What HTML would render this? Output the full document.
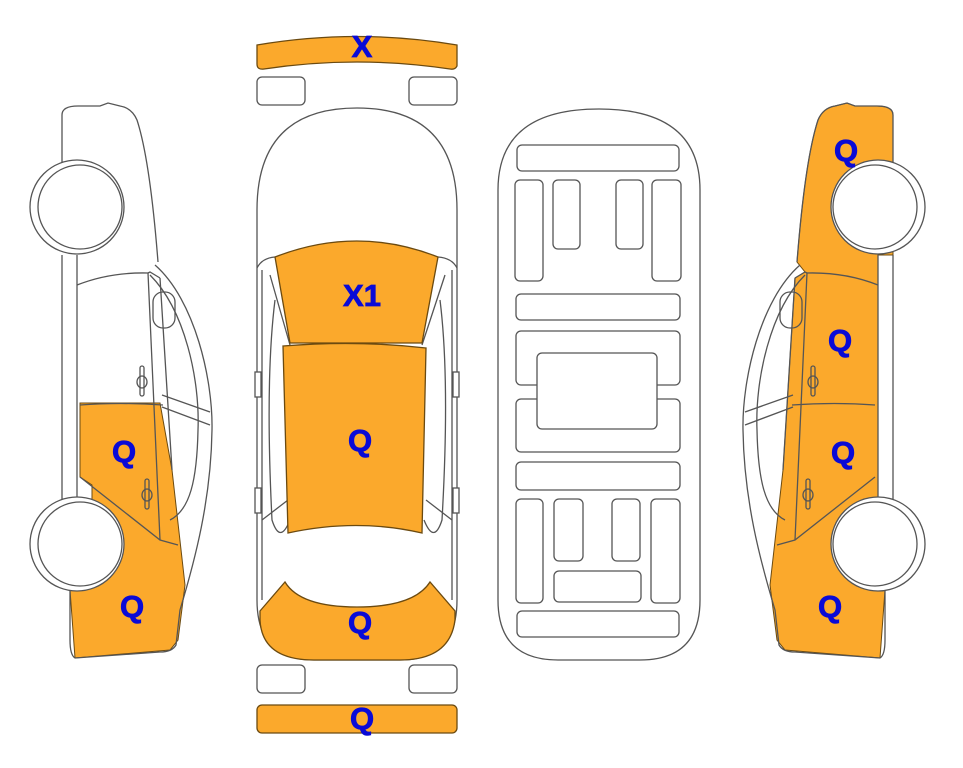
<!DOCTYPE html>
<html><head><meta charset="utf-8"><style>
html,body{margin:0;padding:0;background:#fff;}
svg{display:block;}
text{font-family:"Liberation Sans",Arial,sans-serif;font-weight:bold;fill:#0a0ad6;font-size:31px;text-anchor:middle;stroke:#0a0ad6;stroke-width:0.8;}
</style></head><body>
<svg width="963" height="768" viewBox="0 0 963 768" xmlns="http://www.w3.org/2000/svg">
<defs>
<g id="sideLines" fill="none" stroke="#555" stroke-width="1.3">
  <path d="M62,165 L62,115 Q62,106 78,106 L100,106 L108,103 L120,106 Q132,108 137,120 Q150,160 158,262"/>
  <path d="M155,265 C195,300 213,380 212,430 C211,500 195,560 180,610 L176,645 Q172,652 160,652 L75,658 Q70,655 70,640 L70,588"/>
  <path d="M150,275 C185,310 200,380 198,430 C197,480 190,510 170,520"/>
  <path d="M62,255 L62,505 M77,255 L77,505"/>
  <path d="M77,285 Q110,272 148,273 L160,540"/>
  <path d="M148,273 L150,272 L160,278"/>
  <path d="M160,278 L172,470"/>
  <path d="M80,405 Q120,402 163,405"/>
  <path d="M80,477 L160,540 L178,545"/>
  <path d="M162,395 L210,412 M162,407 L210,425"/>
  <rect x="153" y="292" width="22" height="36" rx="10"/>
  <ellipse cx="142" cy="382" rx="5" ry="6"/><rect x="140" y="366" width="4" height="30" rx="2"/>
  <ellipse cx="147" cy="495" rx="5" ry="6"/><rect x="145" y="479" width="4" height="30" rx="2"/>
</g>
<g id="wheels" stroke="#555" stroke-width="1.3" fill="#fff">
  <circle cx="77" cy="207" r="47"/><circle cx="80" cy="207" r="42"/>
  <circle cx="77" cy="544" r="47"/><circle cx="80" cy="544" r="42"/>
</g>
</defs>

<path d="M80,403 L160,403 L172,470 L185,585 L178,640 L170,650 L75,658 L70,590 L70,510 L92,505 L92,485 L80,477 Z" fill="#fba92c" stroke="#6b4a10" stroke-width="1"/>
<use href="#sideLines"/>
<use href="#wheels"/>

<g transform="translate(955,0) scale(-1,1)">
<path d="M62,165 L62,115 Q62,106 78,106 L100,106 L108,103 L120,106 Q132,108 137,120 Q150,160 158,262 L150,272 L160,278 L172,470 L185,585 L178,640 L170,650 L75,658 L70,590 L70,505 L77,505 L77,255 L62,255 Z" fill="#fba92c" stroke="#6b4a10" stroke-width="1"/>
<use href="#sideLines"/>
<use href="#wheels"/>
</g>

<g stroke="#555" stroke-width="1.3">
<path d="M257,45 Q357,28 457,45 L457,66 Q455,70 450,69 Q357,55 264,69 Q257,70 257,64 Z" fill="#fba92c" stroke="#6b4a10"/>
<rect x="257" y="77" width="48" height="28" rx="5" fill="#fff"/>
<rect x="409" y="77" width="48" height="28" rx="5" fill="#fff"/>
<rect x="257" y="665" width="48" height="28" rx="5" fill="#fff"/>
<rect x="409" y="665" width="48" height="28" rx="5" fill="#fff"/>
<rect x="257" y="705" width="200" height="28" rx="5" fill="#fba92c" stroke="#6b4a10"/>

<path d="M257,210 Q257,108 357,108 Q457,108 457,210 L457,600 Q457,660 400,660 L314,660 Q257,660 257,600 Z" fill="#fff"/>
<path d="M260,611 L285,582 Q300,607 357,607 Q414,607 430,582 L455,611 L455,620 Q450,660 400,660 L314,660 Q262,660 260,620 Z" fill="#fba92c" stroke="#6b4a10"/>
<path d="M257,268 Q262,258 275,257 M457,268 Q452,258 438,257" fill="none"/>
<path d="M262,270 L262,600 M452,270 L452,600" fill="none"/>
<path d="M270,275 L290,345 M445,275 L422,345" fill="none"/>
<path d="M275,300 Q265,380 272,520 Q280,545 290,520 M440,300 Q450,380 442,520 Q434,545 424,520" fill="none"/>
<path d="M262,520 L288,500 M452,520 L426,500" fill="none"/>
<rect x="255" y="372" width="6" height="25" fill="#fff"/>
<rect x="453" y="372" width="6" height="25" fill="#fff"/>
<rect x="255" y="488" width="6" height="25" fill="#fff"/>
<rect x="453" y="488" width="6" height="25" fill="#fff"/>
<path d="M275,257 Q357,225 438,257 L422,343 L290,343 Z" fill="#fba92c" stroke="#6b4a10"/>
<path d="M283,346 Q357,340 426,348 L422,533 Q357,518 288,533 Z" fill="#fba92c" stroke="#6b4a10"/>
</g>

<g fill="#fff" stroke="#555" stroke-width="1.3">
<path d="M498,190 Q498,109 599,109 Q700,109 700,190 L700,600 Q700,660 640,660 L558,660 Q498,660 498,600 Z"/>
<rect x="517" y="145" width="162" height="26" rx="5"/>
<rect x="515" y="180" width="28" height="101" rx="5"/>
<rect x="553" y="180" width="27" height="69" rx="5"/>
<rect x="616" y="180" width="27" height="69" rx="5"/>
<rect x="652" y="180" width="29" height="101" rx="5"/>
<rect x="516" y="294" width="164" height="26" rx="5"/>
<rect x="516" y="331" width="164" height="54" rx="5"/>
<rect x="516" y="399" width="164" height="53" rx="5"/>
<rect x="537" y="353" width="120" height="76" rx="5"/>
<rect x="516" y="462" width="164" height="28" rx="5"/>
<rect x="516" y="499" width="27" height="104" rx="5"/>
<rect x="554" y="499" width="29" height="62" rx="5"/>
<rect x="612" y="499" width="28" height="62" rx="5"/>
<rect x="651" y="499" width="29" height="104" rx="5"/>
<rect x="554" y="571" width="87" height="31" rx="5"/>
<rect x="517" y="611" width="162" height="26" rx="5"/>
</g>

<text x="362" y="57">X</text>
<text x="362" y="306">X1</text>
<text x="360" y="451">Q</text>
<text x="360" y="633">Q</text>
<text x="362" y="729">Q</text>
<text x="124" y="462">Q</text>
<text x="132" y="617">Q</text>
<text x="846" y="161">Q</text>
<text x="840" y="351">Q</text>
<text x="843" y="463">Q</text>
<text x="830" y="617">Q</text>
</svg>
</body></html>
